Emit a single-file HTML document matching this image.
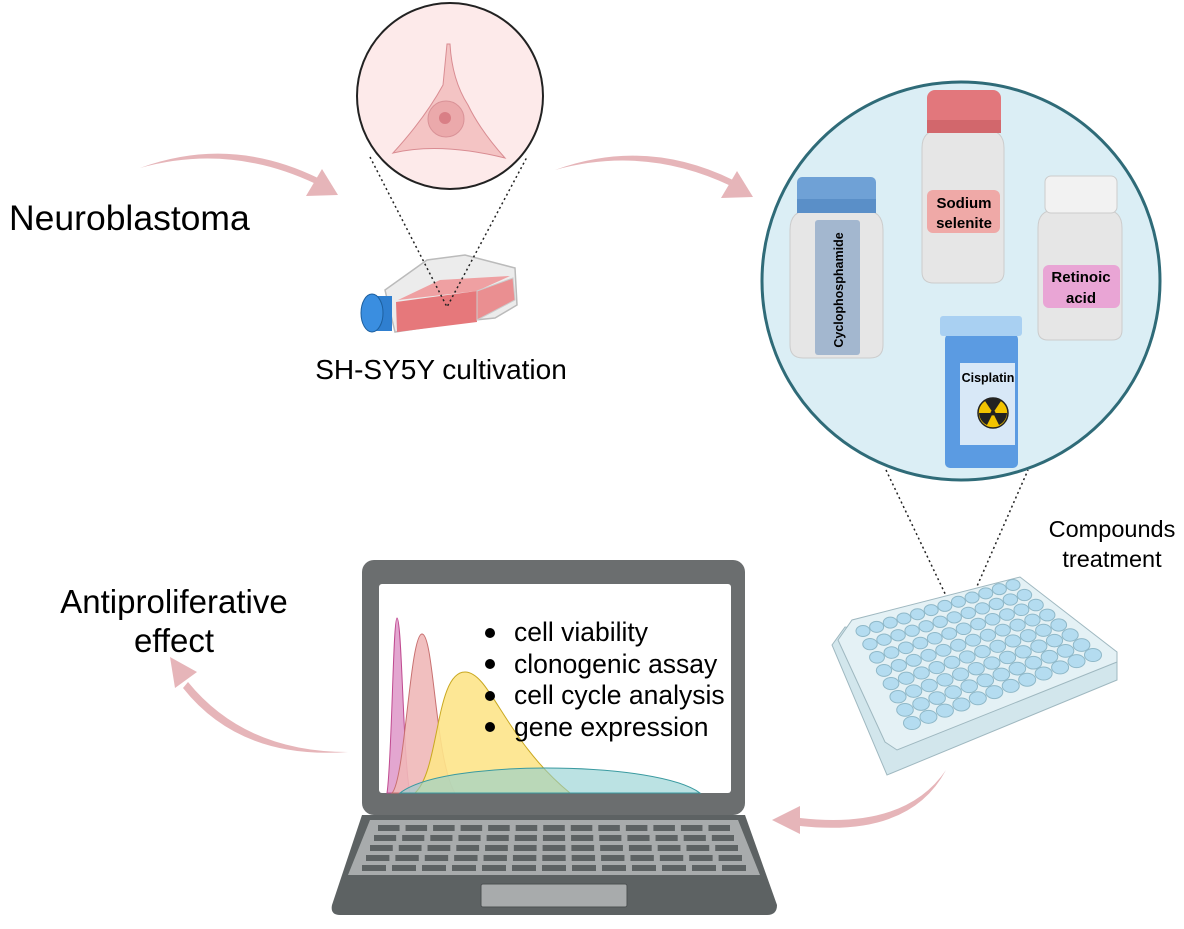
<!DOCTYPE html>
<html><head><meta charset="utf-8"><style>
html,body{margin:0;padding:0;background:#fff;}
svg{display:block;font-family:"Liberation Sans",sans-serif;}
</style></head><body>
<svg id="s" width="1184" height="929" viewBox="0 0 1184 929" xmlns="http://www.w3.org/2000/svg">
<!-- arrows -->
<g fill="#e6b5b9" stroke="none">
<path d="M140 168 Q230 135 318 178 L316 184 Q230 143 140 168 Z"/>
<path d="M555 170 Q645 137 733 180 L731 186 Q645 145 555 170 Z"/>
<path d="M946 770 Q905 830 800 818 L800 826 Q910 838 946 770 Z"/>
<path d="M348 752 Q245 752 188 682 L183 688 Q240 760 348 752 Z"/>
<polygon points="322,169 338,195 306,196"/>
<polygon points="737,171 753,197 721,198"/>
<polygon points="772,820 800,806 800,834"/>
<polygon points="170,657 197,672 175,688"/>
</g>
<text x="9" y="230" font-size="35.5">Neuroblastoma</text>
<text x="174" y="613" font-size="33" text-anchor="middle">Antiproliferative</text>
<text x="174" y="652" font-size="33" text-anchor="middle">effect</text>
<text x="441" y="379" font-size="28" text-anchor="middle">SH-SY5Y cultivation</text>
<text x="1112" y="537" font-size="23.5" text-anchor="middle">Compounds</text>
<text x="1112" y="567" font-size="23.5" text-anchor="middle">treatment</text>

<!-- cell circle -->
<circle cx="450" cy="96" r="93" fill="#fdeaea" stroke="#222" stroke-width="2"/>
<path d="M447 44 Q444 75 443 85 Q425 118 393 153 Q440 142 505 158 Q480 130 468 105 Q452 80 450 44 Z" fill="#f4c4c4" stroke="#d98c92" stroke-width="1"/>
<circle cx="446" cy="119" r="18" fill="#eba9ab" stroke="#d99297"/>
<circle cx="445" cy="118" r="6" fill="#d97f86"/>

<!-- flask -->
<polygon points="385,290 427,260 465,255 515,268 517,305 495,318 475,320 395,332" fill="#ececec" stroke="#bbb" stroke-width="1.5"/>
<polygon points="398,300 440,280 510,276 477,291" fill="#efa0a2"/>
<polygon points="396,302 477,291 477,322 397,332" fill="#e6787b"/>
<polygon points="477,291 513,278 515,300 477,320" fill="#ea8f91" stroke="#ccc"/>
<rect x="370" y="296" width="22" height="35" fill="#2f7fd0"/>
<ellipse cx="372" cy="313" rx="11" ry="19" fill="#3a8ee0" stroke="#1d5f9e"/>

<g stroke="#222" stroke-width="1.5" stroke-dasharray="2,3" fill="none">
<path d="M370 157 L447 307 L527 157"/>
<path d="M886 470 L960 625 L1028 470"/>
</g>

<!-- drug circle -->
<circle cx="961" cy="281" r="199" fill="#dbeef5" stroke="#2f6b78" stroke-width="3"/>
<!-- cyclophosphamide -->
<path d="M790 230 Q790 210 810 210 L863 210 Q883 210 883 230 L883 345 Q883 358 870 358 L803 358 Q790 358 790 345 Z" fill="#e6e6e6" stroke="#ccc"/>
<rect x="797" y="177" width="79" height="36" rx="5" fill="#6fa1d6"/>
<rect x="797" y="199" width="79" height="14" fill="#5a8fc8"/>
<rect x="815" y="220" width="45" height="135" rx="3" fill="#a3b7cf"/>
<text transform="translate(843,290) rotate(-90)" font-size="12.5" font-weight="bold" text-anchor="middle">Cyclophosphamide</text>
<!-- sodium selenite -->
<path d="M922 148 Q922 130 940 130 L986 130 Q1004 130 1004 148 L1004 272 Q1004 283 992 283 L934 283 Q922 283 922 272 Z" fill="#e6e6e6" stroke="#ccc"/>
<rect x="927" y="90" width="74" height="43" rx="8" fill="#e2777c"/>
<rect x="927" y="120" width="74" height="13" fill="#d2676c"/>
<rect x="927" y="190" width="73" height="43" rx="6" fill="#efa9a7"/>
<text x="964" y="208" font-size="15" font-weight="bold" text-anchor="middle">Sodium</text>
<text x="964" y="228" font-size="15" font-weight="bold" text-anchor="middle">selenite</text>
<!-- retinoic -->
<path d="M1038 228 Q1038 210 1055 210 L1105 210 Q1122 210 1122 228 L1122 330 Q1122 340 1112 340 L1048 340 Q1038 340 1038 330 Z" fill="#e6e6e6" stroke="#ccc"/>
<rect x="1045" y="176" width="72" height="37" rx="6" fill="#f2f2f2" stroke="#ccc"/>
<rect x="1043" y="265" width="77" height="43" rx="6" fill="#e9a5d5"/>
<text x="1081" y="282" font-size="15" font-weight="bold" text-anchor="middle">Retinoic</text>
<text x="1081" y="303" font-size="15" font-weight="bold" text-anchor="middle">acid</text>
<!-- cisplatin -->
<rect x="945" y="334" width="73" height="134" rx="5" fill="#5b9be2"/>
<rect x="940" y="316" width="82" height="20" rx="3" fill="#a9d0f2"/>
<rect x="960" y="363" width="55" height="82" fill="#d8e8f7"/>
<text x="988" y="382" font-size="12.5" font-weight="bold" text-anchor="middle">Cisplatin</text>
<circle cx="993" cy="413" r="15" fill="#f2c300" stroke="#222" stroke-width="1.5"/>
<g fill="#222"><circle cx="993" cy="413" r="2.5"/>
<path d="M993 413 L985 401 A14 14 0 0 1 1001 401 Z"/>
<path d="M993 413 L1007 413 A14 14 0 0 1 999 425 Z" />
<path d="M993 413 L987 425 A14 14 0 0 1 979 413 Z"/></g>

<!-- well plate -->
<polygon points="832,645 845,627 1117,660 1117,680 887,775" fill="#d2e6ec" stroke="#9fb8c0"/>
<polygon points="838,640 852,620 1020,577 1117,652 1117,662 897,750 885,742" fill="#e4f1f5" stroke="#9fb8c0"/>
<g id="wells"></g>

<!-- laptop -->
<path d="M362 815 L745 815 L777 905 Q777 915 767 915 L340 915 Q330 915 332 905 Z" fill="#5d6263"/>
<path d="M370 820 L738 820 L760 875 L348 875 Z" fill="#a8abac"/>
<g id="keys" fill="#5d6263"></g>
<rect x="481" y="884" width="146" height="23" rx="2" fill="#a8abac" stroke="#4c5051"/>
<rect x="362" y="560" width="383" height="255" rx="12" fill="#6b6e6f"/>
<rect x="379" y="584" width="352" height="209" rx="3" fill="#fff"/>
<g stroke-width="1">
<path d="M387 793 C392 760 393 618 397 618 C402 618 403 760 410 793 Z" fill="#e3a6d0" stroke="#c04a90"/>
<path d="M392 793 C405 780 410 634 422 634 C434 634 435 760 455 793 Z" fill="#f0b8b8" fill-opacity="0.9" stroke="#c87070"/>
<path d="M415 793 C440 770 435 672 465 672 C490 672 505 740 570 793 Z" fill="#fde48a" fill-opacity="0.9" stroke="#c9a820"/>
<path d="M400 793 C430 770 520 768 545 768 C620 768 680 778 700 793 Z" fill="#8ecfd0" fill-opacity="0.6" stroke="#3a9aa0"/>
</g>
<g font-size="26.5">
<circle cx="490" cy="633" r="5"/><text x="514" y="641">cell viability</text>
<circle cx="490" cy="664" r="5"/><text x="514" y="673">clonogenic assay</text>
<circle cx="490" cy="696" r="5"/><text x="514" y="704">cell cycle analysis</text>
<circle cx="490" cy="727" r="5"/><text x="514" y="736">gene expression</text>
</g>
</svg>
<script>
var ns="http://www.w3.org/2000/svg",w=document.getElementById("wells");
var A=[863,631],B=[1013,585],C=[912,723],D=[1093,655];
for(var r=0;r<8;r++)for(var c=0;c<12;c++){var u=c/11,v=r/7;
var x=(1-u)*(1-v)*A[0]+u*(1-v)*B[0]+(1-u)*v*C[0]+u*v*D[0];
var y=(1-u)*(1-v)*A[1]+u*(1-v)*B[1]+(1-u)*v*C[1]+u*v*D[1];
var e=document.createElementNS(ns,"ellipse");
e.setAttribute("cx",x);e.setAttribute("cy",y);
e.setAttribute("rx",7+v*1.5);e.setAttribute("ry",5.5+v*1);e.setAttribute("fill","#b4dcf0");e.setAttribute("stroke","#8fb8c8");w.appendChild(e);}
var k=document.getElementById("keys");
for(var r=0;r<5;r++){var y=825+r*10,x0=375-r*4,x1=733+r*4,n=13,wd=(x1-x0)/n;
for(var i=0;i<n;i++){var e=document.createElementNS(ns,"rect");e.setAttribute("x",x0+i*wd+3);e.setAttribute("y",y);e.setAttribute("width",wd-6);e.setAttribute("height",6);k.appendChild(e);}}
</script>
</body></html>
